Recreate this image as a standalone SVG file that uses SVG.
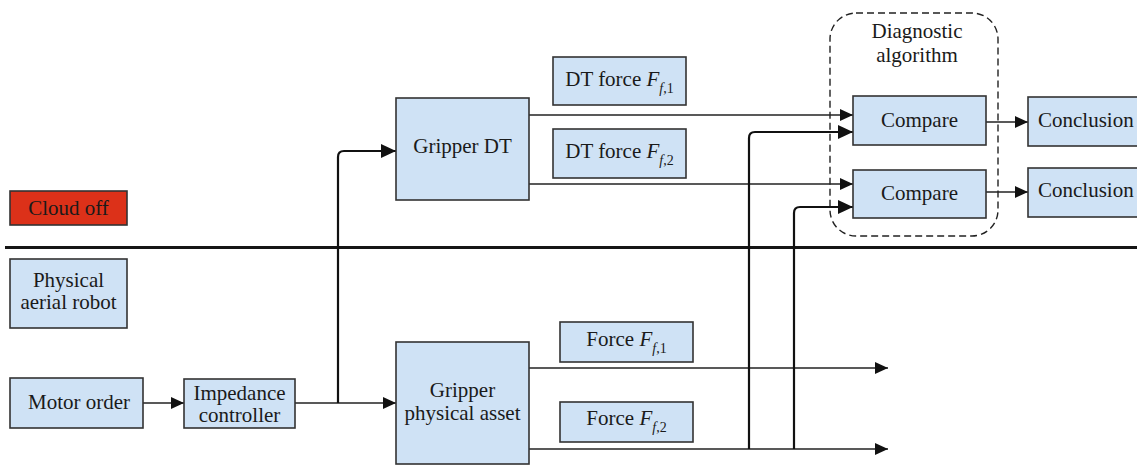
<svg xmlns="http://www.w3.org/2000/svg" width="1137" height="466" viewBox="0 0 1137 466">
  <style>
    .box { fill: #cfe2f5; stroke: #333; stroke-width: 1.6; }
    .red { fill: #dc3119; stroke: #333; stroke-width: 1.6; }
    .t { font-family: "Liberation Serif", "Times New Roman", serif; font-size: 21px; fill: #1a1a1a; }
    .c { text-anchor: middle; }
    .it { font-style: italic; }
    .sub { font-size: 14px; }
    .thin { fill: none; stroke: #222; stroke-width: 1.4; }
    .thick { fill: none; stroke: #111; stroke-width: 2.2; }
  </style>
  <defs>
    <marker id="ah" markerUnits="userSpaceOnUse" markerWidth="14" markerHeight="12" refX="13" refY="6" orient="auto">
      <path d="M0,0 L13,6 L0,12 Z" fill="#111"/>
    </marker>
    <marker id="ahb" markerUnits="userSpaceOnUse" markerWidth="16" markerHeight="14" refX="15" refY="7" orient="auto">
      <path d="M0,0 L15,7 L0,14 Z" fill="#111"/>
    </marker>
  </defs>

  <rect width="1137" height="466" fill="#fff"/>

  <!-- separator between cloud side and physical side -->
  <line x1="5" y1="247.5" x2="1137" y2="247.5" stroke="#151515" stroke-width="3"/>

  <!-- diagnostic algorithm frame -->
  <g id="diagnostic">
    <rect x="830" y="13" width="168" height="223" rx="26" ry="26" fill="none" stroke="#222" stroke-width="1.4" stroke-dasharray="7,4"/>
    <text class="t c" x="917" y="38">Diagnostic</text>
    <text class="t c" x="917" y="62">algorithm</text>
  </g>

  <g id="connectors">
    <path class="thin" d="M143,403 H184" marker-end="url(#ah)"/>
    <path class="thin" d="M295,403 H396" marker-end="url(#ah)"/>
    <path class="thick" d="M338,403 V157 Q338,151 344,151 H396" marker-end="url(#ahb)"/>
    <path class="thin" d="M529,115 H853" marker-end="url(#ah)"/>
    <path class="thin" d="M529,184 H853" marker-end="url(#ah)"/>
    <path class="thin" d="M529,368 H888" marker-end="url(#ah)"/>
    <path class="thin" d="M529,449 H888" marker-end="url(#ah)"/>
    <path class="thick" d="M749,449 V138 Q749,132 755,132 H853" marker-end="url(#ahb)"/>
    <path class="thick" d="M794,449 V213 Q794,207 800,207 H853" marker-end="url(#ahb)"/>
    <path class="thin" d="M986,122 H1028" marker-end="url(#ah)"/>
    <path class="thin" d="M986,192 H1028" marker-end="url(#ah)"/>
  </g>

  <g id="cloud-off">
    <rect class="red" x="10" y="191" width="117" height="34"/>
    <text class="t c" x="68.5" y="215">Cloud off</text>
  </g>

  <g id="physical-aerial-robot">
    <rect class="box" x="10" y="259" width="117" height="69"/>
    <text class="t c" x="68.5" y="287">Physical</text>
    <text class="t c" x="68.5" y="309">aerial robot</text>
  </g>

  <g id="motor-order">
    <rect class="box" x="10" y="378" width="133" height="50"/>
    <text class="t c" x="79" y="409">Motor order</text>
  </g>

  <g id="impedance-controller">
    <rect class="box" x="184" y="379" width="111" height="49"/>
    <text class="t c" x="239.5" y="400">Impedance</text>
    <text class="t c" x="239.5" y="422">controller</text>
  </g>

  <g id="gripper-dt">
    <rect class="box" x="396" y="98" width="133" height="102"/>
    <text class="t c" x="462.5" y="153">Gripper DT</text>
  </g>

  <g id="gripper-physical-asset">
    <rect class="box" x="396" y="342" width="133" height="122"/>
    <text class="t c" x="462.5" y="397">Gripper</text>
    <text class="t c" x="462.5" y="420">physical asset</text>
  </g>

  <g id="dt-force-1">
    <rect class="box" x="553" y="57" width="133" height="48"/>
    <text class="t c" x="619.5" y="86">DT force <tspan class="it">F</tspan><tspan class="sub" dy="7"><tspan class="it">f</tspan>,1</tspan></text>
  </g>

  <g id="dt-force-2">
    <rect class="box" x="553" y="129" width="133" height="49"/>
    <text class="t c" x="619.5" y="158">DT force <tspan class="it">F</tspan><tspan class="sub" dy="7"><tspan class="it">f</tspan>,2</tspan></text>
  </g>

  <g id="force-1">
    <rect class="box" x="560" y="322" width="133" height="40"/>
    <text class="t c" x="626.5" y="346">Force <tspan class="it">F</tspan><tspan class="sub" dy="7"><tspan class="it">f</tspan>,1</tspan></text>
  </g>

  <g id="force-2">
    <rect class="box" x="560" y="402" width="133" height="40"/>
    <text class="t c" x="626.5" y="425">Force <tspan class="it">F</tspan><tspan class="sub" dy="7"><tspan class="it">f</tspan>,2</tspan></text>
  </g>

  <g id="compare-1">
    <rect class="box" x="853" y="96" width="133" height="49"/>
    <text class="t c" x="919.5" y="127">Compare</text>
  </g>

  <g id="compare-2">
    <rect class="box" x="853" y="170" width="133" height="48"/>
    <text class="t c" x="919.5" y="200">Compare</text>
  </g>

  <g id="conclusion-1">
    <rect class="box" x="1028" y="97" width="130" height="49"/>
    <text class="t" x="1038" y="127">Conclusion</text>
  </g>

  <g id="conclusion-2">
    <rect class="box" x="1028" y="168" width="130" height="49"/>
    <text class="t" x="1038" y="197">Conclusion</text>
  </g>
</svg>
